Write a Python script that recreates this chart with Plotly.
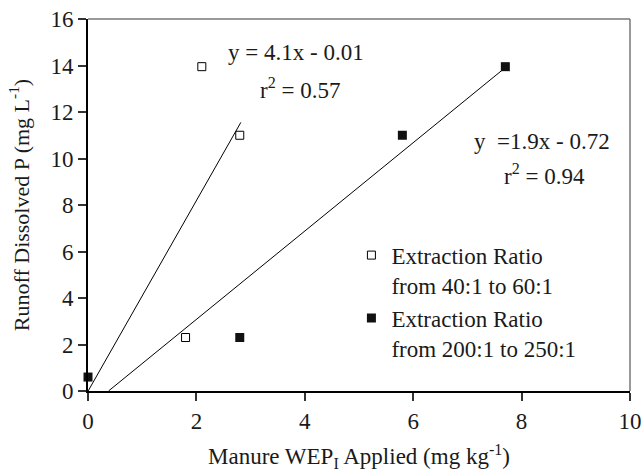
import plotly.graph_objects as go

# Data
open_x = [1.8, 2.1, 2.8]
open_y = [2.3, 13.95, 11.0]
filled_x = [0.0, 2.8, 5.8, 7.7]
filled_y = [0.6, 2.3, 11.0, 13.95]

# Trend lines (slope, intercept, x-extent)
fit1_slope, fit1_int = 4.1, -0.01
fit1_x = [0.0, 2.82]
fit2_slope, fit2_int = 1.9, -0.72
fit2_x = [0.38, 7.7]

x_ticks = [0, 2, 4, 6, 8, 10]
y_ticks = [0, 2, 4, 6, 8, 10, 12, 14, 16]

FONT = "Liberation Serif, Times New Roman, serif"
FS = 23
TXT = "#1a1a1a"

fig = go.Figure()

fig.add_trace(go.Scatter(
    x=fit1_x, y=[fit1_slope * v + fit1_int for v in fit1_x],
    mode="lines", line=dict(color="black", width=1), showlegend=False, hoverinfo="skip"))
fig.add_trace(go.Scatter(
    x=fit2_x, y=[fit2_slope * v + fit2_int for v in fit2_x],
    mode="lines", line=dict(color="black", width=1), showlegend=False, hoverinfo="skip"))

fig.add_trace(go.Scatter(
    x=open_x, y=open_y, mode="markers",
    name="Extraction Ratio<br>from 40:1 to 60:1",
    marker=dict(symbol="square-open", size=8, color="black", line=dict(width=1, color="black")),
    cliponaxis=False))
fig.add_trace(go.Scatter(
    x=filled_x, y=filled_y, mode="markers",
    name="Extraction Ratio<br>from 200:1 to 250:1",
    marker=dict(symbol="square", size=9, color="#111111"),
    cliponaxis=False))

ann = [
    ("y = 4.1x - 0.01", 3.84, 14.54),
    ("r<sup>2</sup> = 0.57", 3.91, 12.99),
    ("y  =1.9x - 0.72", 8.38, 10.71),
    ("r<sup>2</sup> = 0.94", 8.43, 9.3),
]
for t, ax_, ay_ in ann:
    fig.add_annotation(x=ax_, y=ay_, text=t, showarrow=False, xanchor="center", yanchor="middle",
                       font=dict(family=FONT, size=FS, color=TXT))

# top and right grey borders
fig.add_shape(type="line", xref="paper", yref="paper", x0=0, x1=1, y0=1, y1=1,
              line=dict(color="#777777", width=1.5))
fig.add_shape(type="line", xref="paper", yref="paper", x0=1, x1=1, y0=0, y1=1,
              line=dict(color="#777777", width=1.5))

fig.update_layout(
    template="none",
    width=643, height=472,
    margin=dict(l=88, r=13, t=19, b=81, autoexpand=False),
    paper_bgcolor="white", plot_bgcolor="white",
    font=dict(family=FONT, size=FS, color=TXT),
    legend=dict(x=0.486, y=0.423, xanchor="left", yanchor="top",
                bgcolor="rgba(0,0,0,0)", font=dict(family=FONT, size=FS, color=TXT),
                valign="top", itemwidth=30),
    xaxis=dict(range=[0, 10], tickvals=x_ticks, showgrid=False, zeroline=False,
               showline=True, linecolor="black", linewidth=2, automargin=False,
               ticks="outside", ticklen=8, tickwidth=1.5, tickcolor="#333333",
               tickfont=dict(family=FONT, size=FS, color=TXT),
               title=dict(text="Manure WEP<sub>I</sub> Applied (mg kg<sup>-1</sup>)",
                          font=dict(family=FONT, size=FS, color=TXT), standoff=22)),
    yaxis=dict(range=[0, 16], tickvals=y_ticks, showgrid=False, zeroline=False,
               showline=True, linecolor="black", linewidth=2, automargin=False,
               ticks="outside", ticklen=8, tickwidth=1.5, tickcolor="#333333",
               tickfont=dict(family=FONT, size=FS, color=TXT),
               title=dict(text="Runoff Dissolved P (mg L<sup>-1</sup>)",
                          font=dict(family=FONT, size=22, color=TXT), standoff=15)),
)

fig.write_html("out.html")
